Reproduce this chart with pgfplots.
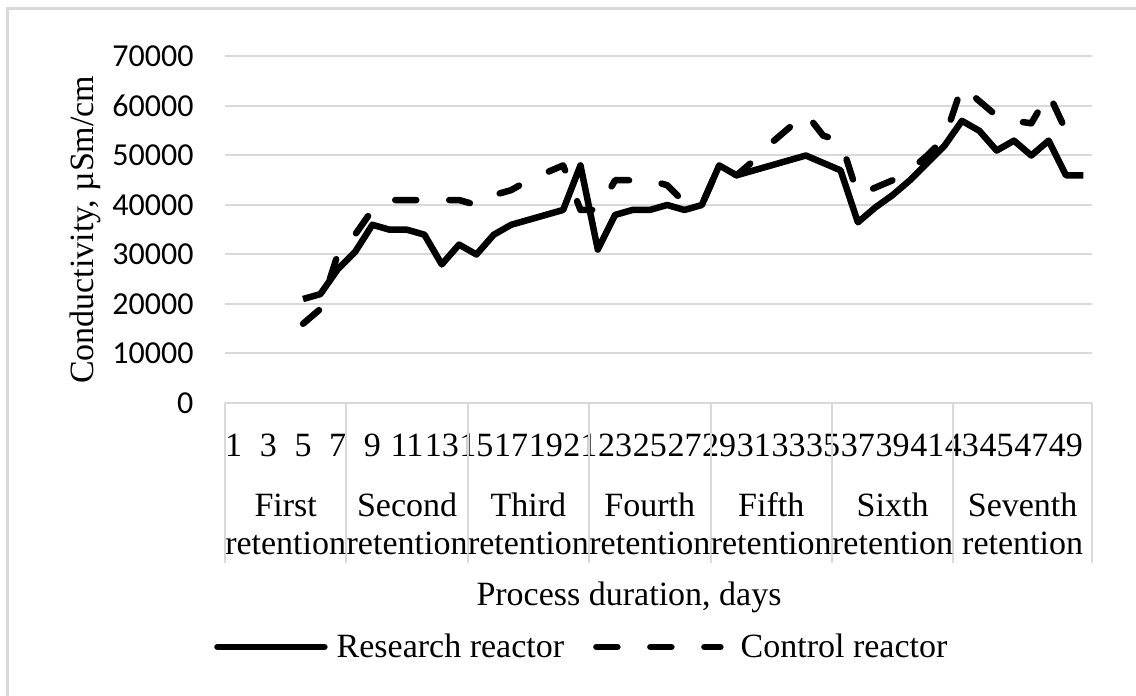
\documentclass[border=0pt]{standalone}
\usepackage{fontspec}
\setmainfont{Liberation Serif}
\newfontfamily\tickfont{Carlito}
\usepackage{pgfplots}
\pgfplotsset{compat=1.18}
\definecolor{gridgray}{HTML}{D9D9D9}

\newcommand\bigfont{\fontsize{34}{38}\selectfont}

\pgfplotsset{
    researchleg/.style={legend image code/.code={%
        \draw[black, line width=6.5pt, line cap=round] (0pt,0pt) -- (107pt,0pt);}},
    controlleg/.style={legend image code/.code={%
        \draw[black, line width=6.5pt, line cap=round, dash pattern=on 21pt off 33pt] (0pt,0pt) -- (124pt,0pt);
        \path (132pt,0pt);}},
}

\begin{document}
\begin{tikzpicture}
\useasboundingbox (0pt,0pt) rectangle (1136pt,696pt);
% light frame, only left and top edges visible
\draw[gridgray, line width=3pt] (7pt,0pt) -- (7pt,687pt) -- (1136pt,687pt);
\begin{axis}[
    at={(225pt,293pt)}, anchor=south west,
    scale only axis, width=867pt, height=346.5pt,
    xmin=0, xmax=50, ymin=0, ymax=70000,
    clip=false,
    axis line style={draw=none},
    font=\bigfont,
    xtick={0.5,2.5,...,48.5},
    xticklabels={1,3,5,7,9,11,13,15,17,19,21,23,25,27,29,31,33,35,37,39,41,43,45,47,49},
    xtick style={draw=none},
    xticklabel style={anchor=base, yshift=-53.5pt},
    ytick={0,10000,...,70000},
    ytick style={draw=none},
    scaled y ticks=false,
    /pgf/number format/1000 sep={},
    /pgf/number format/assume math mode=true,
    yticklabel style={font=\tickfont\fontsize{32}{36}\selectfont, anchor=east, xshift=-28pt},
    ymajorgrids=true,
    grid style={gridgray, line width=2pt},
    xlabel={Process duration, days},
    xlabel style={at={(axis description cs:0.466,-0.56)}, anchor=center},
    ylabel={Conductivity, µSm/cm},
    ylabel style={at={(axis description cs:-0.1615,0.5)}, anchor=center},
    legend columns=2,
    legend style={at={(axis description cs:-0.0127,-0.704)}, anchor=west,
        draw=none, fill=none, inner sep=0pt, font=\bigfont,
        nodes={inner sep=1pt},
        /tikz/every odd column/.append style={column sep=8pt},
        /tikz/every even column/.append style={column sep=28pt}},
]
% Research reactor
\addplot[black, line width=6.5pt, line join=round, researchleg]
coordinates {
(4.5,21000)(5.5,22000)(6.5,27000)(7.5,30500)(8.5,36000)(9.5,35000)(10.5,35000)
(11.5,34000)(12.5,28000)(13.5,32000)(14.5,30000)(15.5,34000)(16.5,36000)(17.5,37000)
(18.5,38000)(19.5,39000)(20.5,48000)(21.5,31000)(22.5,38000)(23.5,39000)(24.5,39000)
(25.5,40000)(26.5,39000)(27.5,40000)(28.5,48000)(29.5,46000)(30.5,47000)(31.5,48000)
(32.5,49000)(33.5,50000)(34.5,48500)(35.5,47000)(36.5,36500)(37.5,39500)(38.5,42000)
(39.5,45000)(40.5,48500)(41.5,52000)(42.5,57000)(43.5,55000)(44.5,51000)(45.5,53000)
(46.5,50000)(47.5,53000)(48.5,46000)(49.5,46000)
};
\addlegendentry{Research reactor}
% Control reactor
\addplot[black, line width=6.5pt, line cap=round, line join=round,
    dash pattern=on 21pt off 33pt, controlleg]
coordinates {
(4.5,16000)(5.5,19000)(6.5,30000)(7.5,34000)(8.5,39000)(9.5,41000)(10.5,41000)
(11.5,41000)(12.5,41000)(13.5,41000)(14.5,40000)(15.5,42000)(16.5,43000)(17.5,45000)
(18.5,46500)(19.5,48000)(20.5,39000)(21.5,39000)(22.5,45000)(23.5,45000)(24.5,45000)
(25.5,44000)(26.5,40500)(27.5,40000)(28.5,48000)(29.5,46000)(30.5,49000)(31.5,52500)
(32.5,55500)(33.5,58500)(34.5,54000)(35.5,53000)(36.5,42000)(37.5,43500)(38.5,45000)
(39.5,47000)(40.5,50000)(41.5,53500)(42.5,64000)(43.5,61000)(44.5,58000)(45.5,57000)
(46.5,56500)(47.5,62500)(48.5,55000)(49.5,52000)
};
\addlegendentry{Control reactor}
% category separators below the axis
\pgfplotsinvokeforeach{0,7,14,21,28,35,42,50}{
    \draw[gridgray, line width=2pt] (axis cs:#1,0) -- ([yshift=-160pt]axis cs:#1,0);
}
% retention group labels
\node[align=center, yshift=-121pt] at (axis cs:3.5,0) {First\\retention};
\node[align=center, yshift=-121pt] at (axis cs:10.5,0) {Second\\retention};
\node[align=center, yshift=-121pt] at (axis cs:17.5,0) {Third\\retention};
\node[align=center, yshift=-121pt] at (axis cs:24.5,0) {Fourth\\retention};
\node[align=center, yshift=-121pt] at (axis cs:31.5,0) {Fifth\\retention};
\node[align=center, yshift=-121pt] at (axis cs:38.5,0) {Sixth\\retention};
\node[align=center, yshift=-121pt] at (axis cs:46,0) {Seventh\\retention};
\end{axis}
\end{tikzpicture}
\end{document}
